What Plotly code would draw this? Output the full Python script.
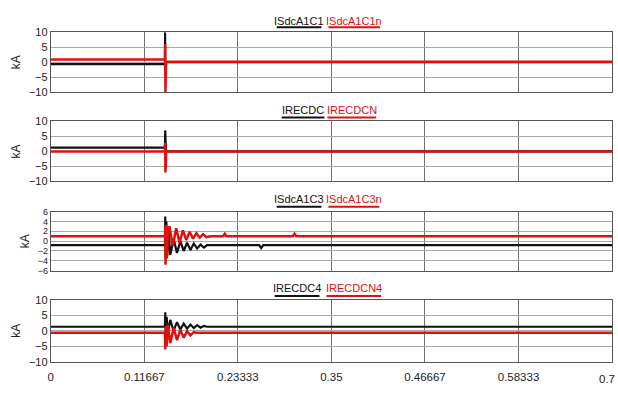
import plotly.graph_objects as go

# ---------------- data ----------------
x_tick_vals = [0, 0.11667, 0.23333, 0.35, 0.46667, 0.58333, 0.7]
x_tick_text = ["0", "0.11667", "0.23333", "0.35", "0.46667", "0.58333", "0.7"]

# Panel 1
p1_black_name = "ISdcA1C1"
p1_black_t = [0, 0.1424, 0.1426, 0.1428, 0.1431, 0.1434, 0.7]
p1_black_v = [-0.6, -0.6, 10.0, -2.0, 1.0, 0.0, 0.0]
p1_red_name = "ISdcA1C1n"
p1_red_t = [0, 0.1424, 0.1427, 0.1430, 0.1433, 0.1436, 0.1440, 0.7]
p1_red_v = [0.9, 0.9, 6.0, -10.0, 4.0, -2.0, 0.2, 0.2]

# Panel 2
p2_black_name = "IRECDC"
p2_black_t = [0, 0.1424, 0.1427, 0.1430, 0.1433, 0.1437, 0.7]
p2_black_v = [1.3, 1.3, 7.0, 2.0, 6.0, 0.0, 0.0]
p2_red_name = "IRECDCN"
p2_red_t = [0, 0.1424, 0.1427, 0.1430, 0.1433, 0.1436, 0.1440, 0.7]
p2_red_v = [0.0, 0.0, 3.0, -7.0, 2.0, -4.0, 0.0, 0.0]

# Panel 3
p3_black_name = "ISdcA1C3"
p3_black_t = [0, 0.1424, 0.1428, 0.1434, 0.1442, 0.1452, 0.1470, 0.1490, 0.1532, 0.1574,
              0.1616, 0.1658, 0.1700, 0.1742, 0.1784, 0.1826, 0.1868, 0.1910, 0.1950,
              0.2600, 0.2625, 0.2650, 0.7]
p3_black_v = [-0.8, -0.8, 5.0, -3.5, 4.0, -3.0, 2.0, -2.8, 0.5, -2.4,
              0.0, -2.0, -0.3, -1.8, -0.5, -1.5, -0.7, -1.3, -0.8,
              -0.8, -1.4, -0.8, -0.8]
p3_red_name = "ISdcA1C3n"
p3_red_t = [0, 0.1424, 0.1427, 0.1431, 0.1438, 0.1448, 0.1464, 0.1480, 0.1522, 0.1564,
            0.1606, 0.1648, 0.1690, 0.1732, 0.1774, 0.1816, 0.1858, 0.1900, 0.1942,
            0.1985, 0.2150, 0.2170, 0.2190, 0.3020, 0.3040, 0.3060, 0.7]
p3_red_v = [1.0, 1.0, 3.0, -4.8, 3.3, -3.5, 2.5, 3.0, -1.0, 2.6,
            -0.3, 2.2, 0.2, 1.9, 0.5, 1.6, 0.7, 1.4, 0.8,
            1.0, 1.0, 1.5, 1.0, 1.0, 1.5, 1.0, 1.0]

# Panel 4
p4_black_name = "IRECDC4"
p4_black_t = [0, 0.1424, 0.1428, 0.1434, 0.1445, 0.1460, 0.1490, 0.1532, 0.1574, 0.1616,
              0.1658, 0.1700, 0.1742, 0.1784, 0.1826, 0.1868, 0.1910, 0.1950, 0.7]
p4_black_v = [1.3, 1.3, 6.0, -1.0, 4.5, -0.5, 3.5, 0.0, 2.8, 0.4,
              2.3, 0.7, 2.0, 0.9, 1.8, 1.0, 1.6, 1.3, 1.3]
p4_red_name = "IRECDCN4"
p4_red_t = [0, 0.1424, 0.1428, 0.1434, 0.1445, 0.1460, 0.1490, 0.1532, 0.1574, 0.1616,
            0.1658, 0.1700, 0.1742, 0.1784, 0.1810, 0.7]
p4_red_v = [-0.6, -0.6, -6.0, 1.5, -5.0, 2.0, -4.0, 1.0, -3.0, 0.3,
            -2.2, -0.1, -1.5, -0.4, -0.6, -0.6]

p124_ticks = [-10, -5, 0, 5, 10]
p3_ticks = [-6, -4, -2, 0, 2, 4, 6]

# ---------------- styling / layout ----------------
W, H = 618, 394
FONT = "Liberation Sans Narrow, Liberation Sans, Arial"
BLACK = "#111111"
RED = "#e01010"

panels = [
    (p1_black_name, p1_black_t, p1_black_v, p1_red_name, p1_red_t, p1_red_v, [-10, 10], p124_ticks, (27, 89), (15, 22), (275, 320, 327, 379)),
    (p2_black_name, p2_black_t, p2_black_v, p2_red_name, p2_red_t, p2_red_v, [-10, 10], p124_ticks, (119, 181), (107, 115), (280, 323, 326, 375)),
    (p3_black_name, p3_black_t, p3_black_v, p3_red_name, p3_red_t, p3_red_v, [-6, 6], p3_ticks, (212, 273), (199, 207), (275, 320, 327, 378)),
    (p4_black_name, p4_black_t, p4_black_v, p4_red_name, p4_red_t, p4_red_v, [-10, 10], p124_ticks, (303, 367), (291, 299), (273, 318, 325, 380)),
]

fig = go.Figure()
layout = dict(
    width=W, height=H, margin=dict(l=0, r=0, t=0, b=0),
    paper_bgcolor="white", plot_bgcolor="white", showlegend=False,
    font=dict(family=FONT, size=10, color="#222"),
)
annotations = []
shapes = []
xl, xr = 48, 612

for i, (bn, bt, bv, rn, rt, rv, yr, yt, (ptop, pbot), (ty, uy), (bx0, bx1, rx0, rx1)) in enumerate(panels):
    k = "" if i == 0 else str(i + 1)
    fig.add_trace(go.Scatter(x=bt, y=bv, mode="lines", line=dict(color=BLACK, width=2.2),
                             xaxis="x" + k, yaxis="y" + k, name=bn))
    fig.add_trace(go.Scatter(x=rt, y=rv, mode="lines", line=dict(color=RED, width=2.5),
                             xaxis="x" + k, yaxis="y" + k, name=rn))
    last = i == len(panels) - 1
    layout["xaxis" + k] = dict(
        domain=[xl / W, xr / W], range=[0, 0.7], anchor="y" + k,
        tickvals=x_tick_vals[:-1], ticktext=x_tick_text[:-1], showticklabels=last,
        showgrid=True, gridcolor="#707070", gridwidth=1, zeroline=False,
        showline=True, linecolor="#555", linewidth=1, mirror=True, ticks="",
        ticklabelstandoff=4,
        tickfont=dict(family=FONT, size=11.5, color="#222"),
    )
    layout["yaxis" + k] = dict(
        domain=[1 - pbot / H, 1 - ptop / H], range=yr, anchor="x" + k,
        tickvals=yt, showgrid=True, gridcolor="#a8a8a8", gridwidth=1, zeroline=False,
        showline=True, linecolor="#555", linewidth=1, mirror=True, ticks="",
        tickfont=dict(family=FONT, size=11 if i != 2 else 9, color="#222"),
        title=dict(text="kA", font=dict(family=FONT, size=12, color="#222"), standoff=5),
    )
    annotations.append(dict(text=bn, x=(bx0 + bx1) / 2 / W, y=1 - ty / H, xref="paper", yref="paper",
                            showarrow=False, font=dict(family=FONT, size=11, color=BLACK),
                            xanchor="center", yanchor="middle"))
    annotations.append(dict(text=rn, x=(rx0 + rx1) / 2 / W, y=1 - ty / H, xref="paper", yref="paper",
                            showarrow=False, font=dict(family=FONT, size=11, color=RED),
                            xanchor="center", yanchor="middle"))
    shapes.append(dict(type="line", xref="paper", yref="paper", x0=bx0 / W, x1=bx1 / W,
                       y0=1 - uy / H, y1=1 - uy / H, line=dict(color=BLACK, width=2)))
    shapes.append(dict(type="line", xref="paper", yref="paper", x0=rx0 / W, x1=rx1 / W,
                       y0=1 - uy / H, y1=1 - uy / H, line=dict(color=RED, width=2)))

# last x tick label sits at the right edge of the page
annotations.append(dict(text=x_tick_text[-1], x=1.0, xref="paper", y=1 - 385 / H, yref="paper",
                        showarrow=False, font=dict(family=FONT, size=11.5, color="#222"),
                        xanchor="right", yanchor="middle", xshift=-1))

layout["annotations"] = annotations
layout["shapes"] = shapes
fig.update_layout(**layout)
fig.write_html("out.html")
